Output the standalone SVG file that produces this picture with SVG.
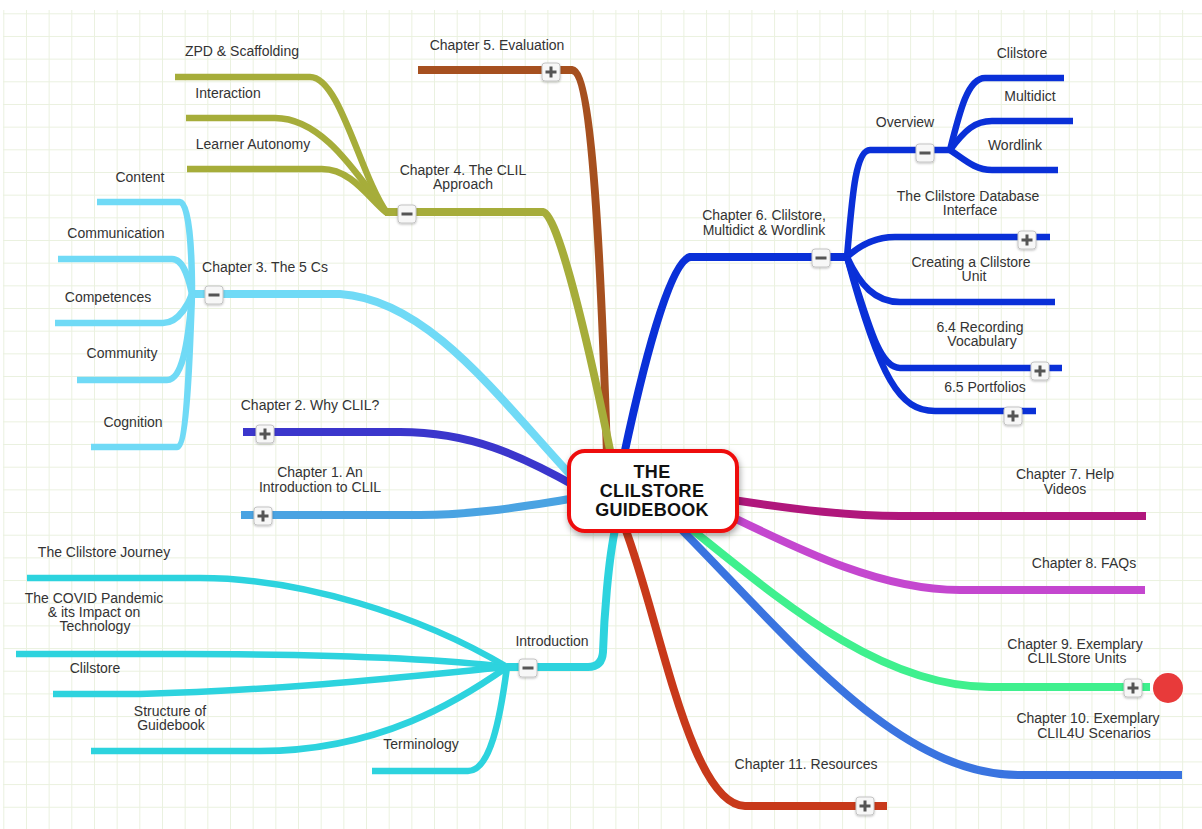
<svg xmlns="http://www.w3.org/2000/svg" width="1202" height="829" viewBox="0 0 1202 829">
<defs>
<pattern id="grid" patternUnits="userSpaceOnUse" x="3.3" y="13.3" width="22.67" height="22.67">
<path d="M0,0.5 H22.67 M0.5,0 V22.67" fill="none" stroke="#eaf1df" stroke-width="1"/>
</pattern>
<filter id="sh" x="-20%" y="-20%" width="140%" height="150%">
<feDropShadow dx="1" dy="3" stdDeviation="3" flood-color="#000" flood-opacity="0.35"/>
</filter>
<filter id="bsh" x="-30%" y="-30%" width="160%" height="160%">
<feDropShadow dx="0" dy="1" stdDeviation="0.8" flood-color="#000" flood-opacity="0.25"/>
</filter>
<g id="btnbox"><rect x="-9" y="-9" width="18" height="18" rx="3" fill="#f7f7f7" stroke="#c4c4c4" stroke-width="1" filter="url(#bsh)"/></g>
<g id="minus"><use href="#btnbox"/><rect x="-5.5" y="-1.5" width="11" height="3" fill="#555"/></g>
<g id="plus"><use href="#btnbox"/><rect x="-5.5" y="-1.5" width="11" height="3" fill="#555"/><rect x="-1.5" y="-5.5" width="3" height="11" fill="#555"/></g>
</defs>
<style>
text{font-family:"Liberation Sans",Arial,sans-serif;font-size:14px;fill:#333;text-anchor:middle}
.c{fill:none;stroke-linecap:butt;stroke-linejoin:round}
.m{stroke-width:8}
.s{stroke-width:6.5}
.center text{font-size:18px;font-weight:bold;fill:#111;letter-spacing:0.3px}
</style>
<rect width="1202" height="829" fill="#fff"/>
<rect x="3" y="10" width="1199" height="819" fill="url(#grid)"/>

<g id="connectors">
<!-- Chapter 5 -->
<path class="c m" stroke="#a6501f" d="M418,70 H572 C592,72 601,260 607,455"/>
<!-- Chapter 4 -->
<path class="c m" stroke="#a6ad3a" d="M385,212 H543 C560,214 596,380 611,455"/>
<path class="c s" stroke="#a6ad3a" d="M175,77 H310 C340,77 360,175 387,213"/>
<path class="c s" stroke="#a6ad3a" d="M186,118 H275 C325,118 360,180 387,213"/>
<path class="c s" stroke="#a6ad3a" d="M187,169 H322 C352,169 370,200 387,213"/>
<!-- Chapter 3 -->
<path class="c m" stroke="#70daf6" d="M190,294 H340 C430,300 500,400 577,482"/>
<path class="c s" stroke="#70daf6" d="M97,202 H180 C190,202 192,260 192,294"/>
<path class="c s" stroke="#70daf6" d="M58,259 H172 C185,259 190,285 192,294"/>
<path class="c s" stroke="#70daf6" d="M55,323 H163 C180,323 190,300 192,294"/>
<path class="c s" stroke="#70daf6" d="M77,380 H167 C186,380 190,320 192,294"/>
<path class="c s" stroke="#70daf6" d="M91,447 H177 C187,447 190,350 192,294"/>
<!-- Chapter 2 -->
<path class="c m" stroke="#3b36cc" d="M243,432 H400 C470,432 520,455 577,487"/>
<!-- Chapter 1 -->
<path class="c m" stroke="#4aa3e2" d="M241,515 H420 C480,515 530,505 577,498"/>
<!-- Introduction -->
<path class="c m" stroke="#2dd3de" d="M616,525 C608,560 604,620 603,652 Q602,667 588,667 H507"/>
<path class="c s" stroke="#2dd3de" d="M27,578 H200 C300,578 420,615 507,667"/>
<path class="c s" stroke="#2dd3de" d="M16,654 H180 C350,654 450,660 507,667"/>
<path class="c s" stroke="#2dd3de" d="M53,694 H140 C300,690 450,672 507,667"/>
<path class="c s" stroke="#2dd3de" d="M91,751 H260 C380,751 460,700 507,667"/>
<path class="c s" stroke="#2dd3de" d="M372,771 H468 C490,771 500,720 507,667"/>
<!-- Chapter 6 -->
<path class="c m" stroke="#0a30d8" d="M624,455 C640,380 668,262 690,257 H847"/>
<path class="c s" stroke="#0a30d8" d="M847,257 C852,200 855,150 870,150 H950"/>
<path class="c s" stroke="#0a30d8" d="M950,150 C960,110 968,78 985,78 H1064"/>
<path class="c s" stroke="#0a30d8" d="M950,150 C965,130 975,121 992,121 H1073"/>
<path class="c s" stroke="#0a30d8" d="M950,150 C965,160 975,170 992,170 H1058"/>
<path class="c s" stroke="#0a30d8" d="M847,257 C860,245 875,237 895,237 H1050"/>
<path class="c s" stroke="#0a30d8" d="M847,257 C860,285 875,302 900,302 H1055"/>
<path class="c s" stroke="#0a30d8" d="M847,257 C870,330 880,368 900,368 H1062"/>
<path class="c s" stroke="#0a30d8" d="M847,257 C880,380 900,411 935,411 H1036"/>
<!-- Chapter 7 -->
<path class="c m" stroke="#b0177c" d="M733,500 C800,510 850,516 900,516 H1146"/>
<!-- Chapter 8 -->
<path class="c m" stroke="#c447cf" d="M728,515 C800,550 880,590 960,590 H1145"/>
<!-- Chapter 9 -->
<path class="c m" stroke="#3ff08e" d="M690,528 C780,600 880,687 990,687 H1150"/>
<!-- Chapter 10 -->
<path class="c m" stroke="#3a74e0" d="M680,528 C800,650 900,775 1020,775 H1182"/>
<!-- Chapter 11 -->
<path class="c m" stroke="#c8391a" d="M625,528 C660,620 690,805 745,806 H887"/>
</g>

<g id="node-ch5"><text x="497" y="50">Chapter 5. Evaluation</text><use href="#plus" x="551" y="72"/></g>
<g id="node-ch4"><text x="463" y="175">Chapter 4. The CLIL</text><text x="463" y="189">Approach</text><use href="#minus" x="407" y="214"/></g>
<g id="node-zpd"><text x="242" y="56">ZPD &amp; Scaffolding</text></g>
<g id="node-interaction"><text x="228" y="98">Interaction</text></g>
<g id="node-autonomy"><text x="253" y="149">Learner Autonomy</text></g>
<g id="node-ch3"><text x="265" y="272">Chapter 3. The 5 Cs</text><use href="#minus" x="214" y="295"/></g>
<g id="node-content"><text x="140" y="182">Content</text></g>
<g id="node-communication"><text x="116" y="238">Communication</text></g>
<g id="node-competences"><text x="108" y="302">Competences</text></g>
<g id="node-community"><text x="122" y="358">Community</text></g>
<g id="node-cognition"><text x="133" y="427">Cognition</text></g>
<g id="node-ch2"><text x="310" y="410">Chapter 2. Why CLIL?</text><use href="#plus" x="265" y="434"/></g>
<g id="node-ch1"><text x="320" y="477">Chapter 1. An</text><text x="320" y="492">Introduction to CLIL</text><use href="#plus" x="263" y="516"/></g>
<g id="node-intro"><text x="552" y="646">Introduction</text><use href="#minus" x="528" y="668"/></g>
<g id="node-journey"><text x="104" y="557">The Clilstore Journey</text></g>
<g id="node-covid"><text x="94" y="603">The COVID Pandemic</text><text x="94" y="617">&amp; its Impact on</text><text x="95" y="631">Technology</text></g>
<g id="node-clilstore-intro"><text x="95" y="673">Clilstore</text></g>
<g id="node-structure"><text x="170" y="716">Structure of</text><text x="171" y="730">Guidebook</text></g>
<g id="node-terminology"><text x="421" y="749">Terminology</text></g>
<g id="node-ch6"><text x="764" y="220">Chapter 6. Clilstore,</text><text x="764" y="235">Multidict &amp; Wordlink</text><use href="#minus" x="821" y="258"/></g>
<g id="node-overview"><text x="905" y="127">Overview</text><use href="#minus" x="925" y="153"/></g>
<g id="node-clilstore"><text x="1022" y="58">Clilstore</text></g>
<g id="node-multidict"><text x="1030" y="101">Multidict</text></g>
<g id="node-wordlink"><text x="1015" y="150">Wordlink</text></g>
<g id="node-dbinterface"><text x="968" y="201">The Clilstore Database</text><text x="970" y="215">Interface</text><use href="#plus" x="1027" y="240"/></g>
<g id="node-creating"><text x="971" y="267">Creating a Clilstore</text><text x="974" y="281">Unit</text></g>
<g id="node-recording"><text x="980" y="332">6.4 Recording</text><text x="982" y="346">Vocabulary</text><use href="#plus" x="1040" y="371"/></g>
<g id="node-portfolios"><text x="985" y="392">6.5 Portfolios</text><use href="#plus" x="1013" y="416"/></g>
<g id="node-ch7"><text x="1065" y="479">Chapter 7. Help</text><text x="1065" y="494">Videos</text></g>
<g id="node-ch8"><text x="1084" y="568">Chapter 8. FAQs</text></g>
<g id="node-ch9"><text x="1075" y="649">Chapter 9. Exemplary</text><text x="1077" y="663">CLILStore Units</text><use href="#plus" x="1133" y="688"/><circle cx="1168" cy="688" r="15" fill="#e83a3a"/></g>
<g id="node-ch10"><text x="1088" y="723">Chapter 10. Exemplary</text><text x="1094" y="738">CLIL4U Scenarios</text></g>
<g id="node-ch11"><text x="806" y="769">Chapter 11. Resources</text><use href="#plus" x="865" y="806"/></g>

<g id="node-center" class="center">
<rect x="569" y="451" width="168" height="80" rx="16" fill="#fff" stroke="#ee1111" stroke-width="4" filter="url(#sh)"/>
<text x="652" y="478">THE</text>
<text x="652" y="497">CLILSTORE</text>
<text x="652" y="516">GUIDEBOOK</text>
</g>
</svg>
